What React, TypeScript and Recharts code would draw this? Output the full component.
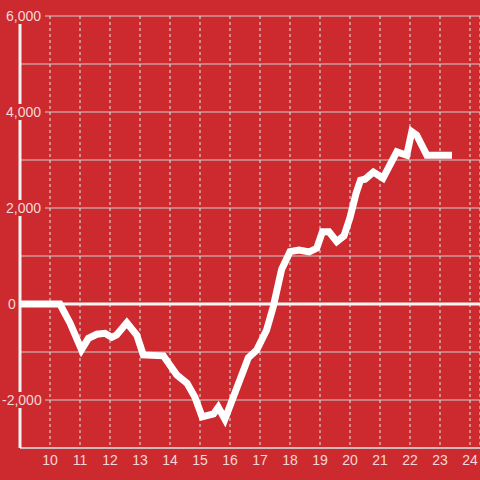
import React from "react";
import {
  LineChart,
  Line,
  XAxis,
  YAxis,
  CartesianGrid,
  ReferenceLine
} from "recharts";

const BG = "#cc2a2f";

// hour of day
const hours = [
  9, 10.33, 10.67, 11.05, 11.28, 11.56, 11.83, 12.06, 12.22, 12.56, 12.89,
  13.11, 13.78, 14.23, 14.57, 14.83, 15.07, 15.45, 15.61, 15.83, 16.61,
  16.89, 17.22, 17.44, 17.72, 18, 18.3, 18.64, 18.89, 19.08, 19.3, 19.56,
  19.8, 20, 20.2, 20.35, 20.5, 20.78, 21.1, 21.56, 21.89, 22.06, 22.22,
  22.56, 23.4
];

// running total
const totals = [
  0, 0, -400, -950, -715, -630, -610, -695, -645, -390, -645, -1060, -1080,
  -1480, -1650, -1940, -2350, -2290, -2150, -2400, -1120, -960, -540, -60,
  720, 1090, 1125, 1085, 1160, 1505, 1505, 1300, 1420, 1800, 2300, 2580,
  2600, 2750, 2620, 3170, 3100, 3590, 3520, 3100, 3100
];

const xTicks = [10, 11, 12, 13, 14, 15, 16, 17, 18, 19, 20, 21, 22, 23, 24];
const yTicks = [-3000, -2000, -1000, 0, 1000, 2000, 3000, 4000, 5000, 6000];

const data = hours.map((t, i) => ({ t, v: totals[i] }));

const labelColor = "rgba(255,240,240,0.88)";

function YTick(props: any) {
  const { y, payload } = props;
  const v = payload.value;
  if (v % 2000 !== 0) return <g />;
  const label = v.toLocaleString("en-US");
  const x0 = v < 0 ? 2 : v === 0 ? 8 : 6;
  const right = v === 0 ? 17 : 45;
  return (
    <g>
      <rect x={x0 - 2} y={y - 8} width={right - x0 + 2} height={16} fill={BG} />
      <text
        x={x0}
        y={y}
        dy="0.355em"
        fill={labelColor}
        fontSize={14}
        fontFamily="'Liberation Sans', Arial, sans-serif"
        textAnchor="start"
      >
        {label}
      </text>
    </g>
  );
}

function XTick(props: any) {
  const { x, payload } = props;
  return (
    <text
      x={x}
      y={465}
      fill={labelColor}
      fontSize={14}
      fontFamily="'Liberation Sans', Arial, sans-serif"
      textAnchor="middle"
    >
      {payload.value}
    </text>
  );
}

export default function App() {
  return (
    <div style={{ position: "absolute", left: 0, top: 0, width: 480, height: 480, background: BG }}>
      <LineChart
        width={480}
        height={480}
        data={data}
        margin={{ top: 16, right: 0, bottom: 0, left: 0 }}
      >
        <CartesianGrid vertical={false} stroke="#cfcfcf" strokeWidth={1} />
        <CartesianGrid horizontal={false} stroke="#e8e8e8" strokeDasharray="3 3" />
        <XAxis
          dataKey="t"
          type="number"
          domain={[9, 24.3333]}
          ticks={xTicks}
          allowDataOverflow
          tickLine={false}
          axisLine={{ stroke: "#d0d0d0", strokeWidth: 1.5 }}
          height={32}
          tick={<XTick />}
        />
        <YAxis
          type="number"
          domain={[-3000, 6000]}
          ticks={yTicks}
          allowDataOverflow
          width={20}
          tickLine={false}
          axisLine={{ stroke: "#f2f2f2", strokeWidth: 3 }}
          tick={<YTick />}
        />
        <ReferenceLine y={0} stroke="#f5f5f5" strokeWidth={3} />
        <Line
          type="linear"
          dataKey="v"
          stroke="#ffffff"
          strokeWidth={7}
          dot={false}
          isAnimationActive={false}
        />
      </LineChart>
    </div>
  );
}
